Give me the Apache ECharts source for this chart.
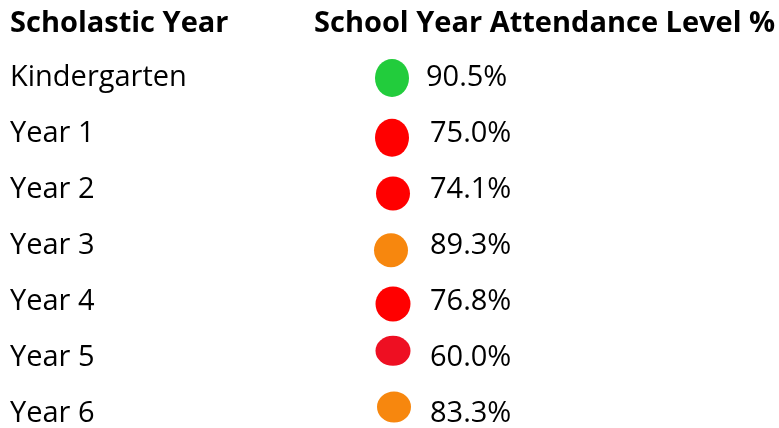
<!DOCTYPE html>
<html><head><meta charset="utf-8">
<script src="https://cdn.jsdelivr.net/npm/echarts@6/dist/echarts.min.js"></script>
<style>html,body{margin:0;padding:0;background:#fff}#c{width:779px;height:428px}</style>
</head><body><div id="c"></div>
<script>
const headers = ['Scholastic Year', 'School Year Attendance Level %'];
const years = ['Kindergarten', 'Year 1', 'Year 2', 'Year 3', 'Year 4', 'Year 5', 'Year 6'];
const attendance = [90.5, 75.0, 74.1, 89.3, 76.8, 60.0, 83.3];
const dotColors = ['#22CC3C', '#FF0000', '#FF0000', '#F7870E', '#FF0000', '#EE0F22', '#F7870E'];
// styling only: per-dot size/offset as drawn in the reference
const dotSizes = [[34,38],[34,38],[34,34],[34,34],[35,35],[35,30],[34,31]];
const dotOffsets = [[78,0],[78,3.8],[79,3.7],[77,4.5],[79,2.3],[79,-6.8],[80,-6.5]];
const labelOffsets = [112,116,116,116,116,116,116];

const font = '"Open Sans", sans-serif';
const chart = echarts.init(document.getElementById('c'), null, {renderer:'canvas'});
chart.setOption({
  animation:false,
  backgroundColor:'#fff',
  grid:{left:10, right:465, top:78, bottom:13, containLabel:false},
  xAxis:{type:'category', data:headers, position:'top', boundaryGap:false,
    axisLine:{show:false}, axisTick:{show:false}, splitLine:{show:false},
    axisLabel:{show:true, interval:0, align:'left', margin:40, color:'#000', fontFamily:font, fontWeight:'bold', fontSize:29}},
  yAxis:{type:'category', data:years, inverse:true, boundaryGap:false,
    axisLine:{show:false}, axisTick:{show:false}, splitLine:{show:false},
    axisLabel:{show:true, inside:true, margin:0, align:'left', interval:0, color:'#000', fontFamily:font, fontSize:29}},
  series:[
    {type:'scatter', symbol:'circle', itemStyle:{opacity:1},
     data: years.map((y,i)=>({value:[headers[1], y], symbolSize:dotSizes[i], symbolOffset:dotOffsets[i], itemStyle:{color:dotColors[i], opacity:1}})),
     silent:true},
    {type:'scatter', symbolSize:1, itemStyle:{color:'rgba(0,0,0,0)', opacity:1},
     data: years.map((y,i)=>({value:[headers[1], y, attendance[i]],
       label:{show:true, position:'inside', align:'left', verticalAlign:'middle', offset:[labelOffsets[i],0],
         formatter: attendance[i].toFixed(1)+'%', color:'#000', opacity:1, fontFamily:font, fontSize:29}})),
     silent:true}
  ]
});
</script></body></html>
